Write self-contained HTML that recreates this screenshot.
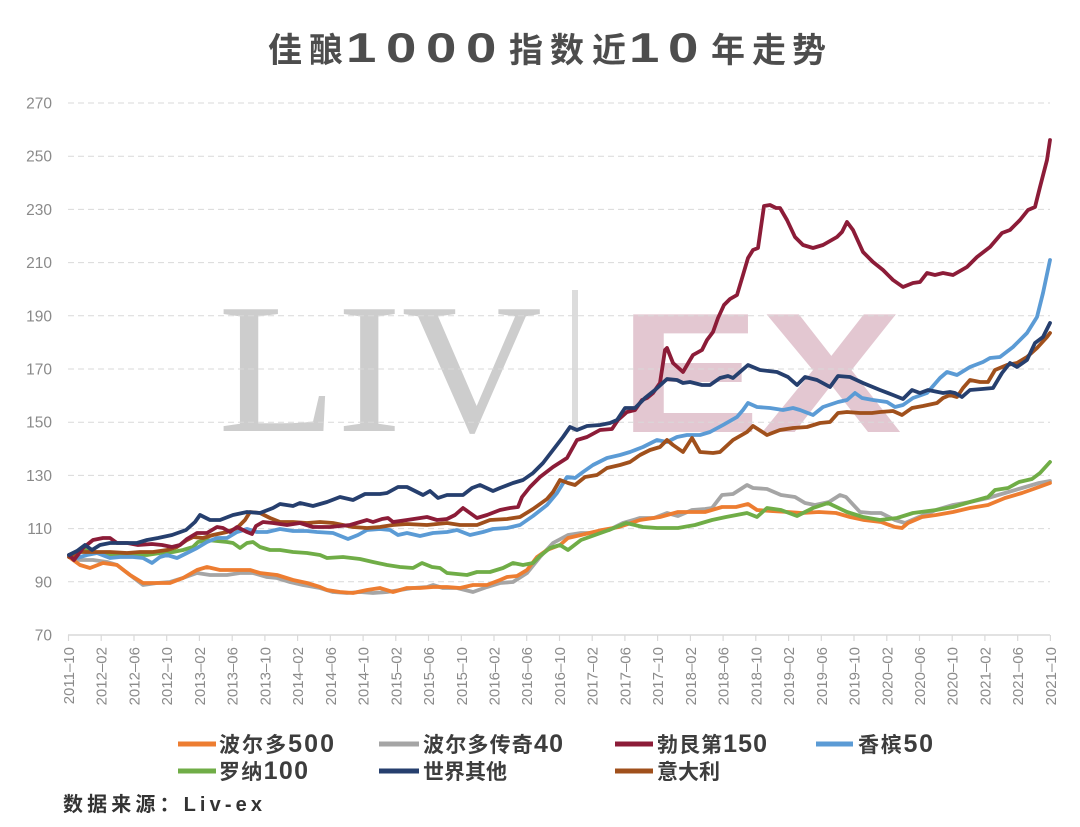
<!DOCTYPE html>
<html><head><meta charset="utf-8"><style>
html,body{margin:0;padding:0;background:#fff;}
svg{display:block;}
</style></head><body>
<svg width="1080" height="827" viewBox="0 0 1080 827" xmlns="http://www.w3.org/2000/svg">
<rect width="1080" height="827" fill="#fff"/>
<!-- title -->
<g font-family="'Liberation Sans','Noto Sans CJK SC',sans-serif" font-weight="bold" fill="#4d4d4d">
<text x="268" y="62" font-size="34">佳</text>
<text x="309" y="62" font-size="34">酿</text>
<text transform="translate(346,62) scale(1.3,1)" font-size="42">1</text>
<text transform="translate(386,62) scale(1.3,1)" font-size="42">0</text>
<text transform="translate(426,62) scale(1.3,1)" font-size="42">0</text>
<text transform="translate(466,62) scale(1.3,1)" font-size="42">0</text>
<text x="509" y="62" font-size="34">指</text>
<text x="550" y="62" font-size="34">数</text>
<text x="592" y="62" font-size="34">近</text>
<text transform="translate(629,62) scale(1.3,1)" font-size="42">1</text>
<text transform="translate(668,62) scale(1.3,1)" font-size="42">0</text>
<text x="711" y="62" font-size="34">年</text>
<text x="752" y="62" font-size="34">走</text>
<text x="792" y="62" font-size="34">势</text>
</g>
<!-- watermark -->
<text x="218" y="431" font-family="'Liberation Serif',serif" font-size="186" fill="#cdcdcd" textLength="324" lengthAdjust="spacingAndGlyphs">LIV</text>
<rect x="572" y="290" width="6" height="142" fill="#dcdcdc"/>
<text x="619" y="432" font-family="'Liberation Sans',sans-serif" font-weight="bold" font-size="171" fill="#e3c7d1" textLength="283" lengthAdjust="spacingAndGlyphs">EX</text>
<!-- gridlines -->
<g stroke="#d9d9d9" stroke-width="1" stroke-dasharray="6,4">
<line x1="68" y1="103" x2="1050" y2="103"/>
<line x1="68" y1="156.2" x2="1050" y2="156.2"/>
<line x1="68" y1="209.4" x2="1050" y2="209.4"/>
<line x1="68" y1="262.6" x2="1050" y2="262.6"/>
<line x1="68" y1="315.8" x2="1050" y2="315.8"/>
<line x1="68" y1="369" x2="1050" y2="369"/>
<line x1="68" y1="422.2" x2="1050" y2="422.2"/>
<line x1="68" y1="475.4" x2="1050" y2="475.4"/>
<line x1="68" y1="528.6" x2="1050" y2="528.6"/>
<line x1="68" y1="581.8" x2="1050" y2="581.8"/>
</g>
<line x1="68" y1="635" x2="1050" y2="635" stroke="#d9d9d9" stroke-width="1.5"/>
<!-- y labels -->
<g font-family="'Liberation Sans',sans-serif" font-size="15.5" fill="#8a8a8a" text-anchor="end">
<text x="52" y="108.5">270</text>
<text x="52" y="161.7">250</text>
<text x="52" y="214.9">230</text>
<text x="52" y="268.1">210</text>
<text x="52" y="321.3">190</text>
<text x="52" y="374.5">170</text>
<text x="52" y="427.7">150</text>
<text x="52" y="480.9">130</text>
<text x="52" y="534.1">110</text>
<text x="52" y="587.3">90</text>
<text x="52" y="640.5">70</text>
</g>
<!-- x ticks & labels -->
<g stroke="#d9d9d9" stroke-width="1.2">
<line x1="68.5" y1="635" x2="68.5" y2="641"/><line x1="101.2" y1="635" x2="101.2" y2="641"/><line x1="134" y1="635" x2="134" y2="641"/><line x1="166.7" y1="635" x2="166.7" y2="641"/><line x1="199.4" y1="635" x2="199.4" y2="641"/><line x1="232.2" y1="635" x2="232.2" y2="641"/><line x1="264.9" y1="635" x2="264.9" y2="641"/><line x1="297.6" y1="635" x2="297.6" y2="641"/><line x1="330.3" y1="635" x2="330.3" y2="641"/><line x1="363.1" y1="635" x2="363.1" y2="641"/><line x1="395.8" y1="635" x2="395.8" y2="641"/><line x1="428.5" y1="635" x2="428.5" y2="641"/><line x1="461.3" y1="635" x2="461.3" y2="641"/><line x1="494" y1="635" x2="494" y2="641"/><line x1="526.7" y1="635" x2="526.7" y2="641"/><line x1="559.5" y1="635" x2="559.5" y2="641"/><line x1="592.2" y1="635" x2="592.2" y2="641"/><line x1="624.9" y1="635" x2="624.9" y2="641"/><line x1="657.6" y1="635" x2="657.6" y2="641"/><line x1="690.4" y1="635" x2="690.4" y2="641"/><line x1="723.1" y1="635" x2="723.1" y2="641"/><line x1="755.8" y1="635" x2="755.8" y2="641"/><line x1="788.6" y1="635" x2="788.6" y2="641"/><line x1="821.3" y1="635" x2="821.3" y2="641"/><line x1="854" y1="635" x2="854" y2="641"/><line x1="886.8" y1="635" x2="886.8" y2="641"/><line x1="919.5" y1="635" x2="919.5" y2="641"/><line x1="952.2" y1="635" x2="952.2" y2="641"/><line x1="984.9" y1="635" x2="984.9" y2="641"/><line x1="1017.7" y1="635" x2="1017.7" y2="641"/><line x1="1050.4" y1="635" x2="1050.4" y2="641"/>
</g>
<g font-family="'Liberation Sans',sans-serif" font-size="15" fill="#8a8a8a" text-anchor="end">
<text transform="translate(74,647) rotate(-90)">2011–10</text>
<text transform="translate(106.7,647) rotate(-90)">2012–02</text>
<text transform="translate(139.5,647) rotate(-90)">2012–06</text>
<text transform="translate(172.2,647) rotate(-90)">2012–10</text>
<text transform="translate(204.9,647) rotate(-90)">2013–02</text>
<text transform="translate(237.7,647) rotate(-90)">2013–06</text>
<text transform="translate(270.4,647) rotate(-90)">2013–10</text>
<text transform="translate(303.1,647) rotate(-90)">2014–02</text>
<text transform="translate(335.8,647) rotate(-90)">2014–06</text>
<text transform="translate(368.6,647) rotate(-90)">2014–10</text>
<text transform="translate(401.3,647) rotate(-90)">2015–02</text>
<text transform="translate(434,647) rotate(-90)">2015–06</text>
<text transform="translate(466.8,647) rotate(-90)">2015–10</text>
<text transform="translate(499.5,647) rotate(-90)">2016–02</text>
<text transform="translate(532.2,647) rotate(-90)">2016–06</text>
<text transform="translate(565,647) rotate(-90)">2016–10</text>
<text transform="translate(597.7,647) rotate(-90)">2017–02</text>
<text transform="translate(630.4,647) rotate(-90)">2017–06</text>
<text transform="translate(663.1,647) rotate(-90)">2017–10</text>
<text transform="translate(695.9,647) rotate(-90)">2018–02</text>
<text transform="translate(728.6,647) rotate(-90)">2018–06</text>
<text transform="translate(761.3,647) rotate(-90)">2018–10</text>
<text transform="translate(794.1,647) rotate(-90)">2019–02</text>
<text transform="translate(826.8,647) rotate(-90)">2019–06</text>
<text transform="translate(859.5,647) rotate(-90)">2019–10</text>
<text transform="translate(892.3,647) rotate(-90)">2020–02</text>
<text transform="translate(925,647) rotate(-90)">2020–06</text>
<text transform="translate(957.7,647) rotate(-90)">2020–10</text>
<text transform="translate(990.4,647) rotate(-90)">2021–02</text>
<text transform="translate(1023.2,647) rotate(-90)">2021–06</text>
<text transform="translate(1055.9,647) rotate(-90)">2021–10</text>
</g>
<!-- series -->
<g fill="none" stroke-width="3.8" stroke-linejoin="round" stroke-linecap="round">
<polyline stroke="#a5a5a5" points="69,557 80,560 93,560 107,562 117,565 130,575 143,585 157,583 170,582 183,578 197,573 210,575 227,575 240,573 253,573 267,577 277,578 290,582 303,585 320,588 333,592 347,593 360,592 373,593 387,592 400,590 413,588 427,587 433,585 443,588 457,588 473,592 487,587 500,583 513,582 527,573 540,557 553,543 568,535 581,533 595,533 609,530 623,523 640,518 654,518 667,513 678,516 692,510 705,509 712,508 722,495 733,494 747,485 753,488 767,489 781,495 795,497 805,503 815,505 829,502 840,495 846,497 860,512 871,513 881,513 895,520 905,523 919,517 936,510 953,505 970,502 988,498 1005,493 1022,488 1039,483 1050,481"/>
<polyline stroke="#ed7d31" points="69,557 80,565 90,568 103,563 117,565 130,575 143,583 157,583 170,583 183,578 197,570 207,567 220,570 237,570 250,570 260,573 277,575 293,580 307,583 320,587 327,590 340,592 353,593 367,590 380,588 393,592 407,588 420,588 433,587 447,587 460,588 473,585 487,585 500,580 507,577 517,576 527,570 537,557 547,550 560,545 568,538 581,535 602,530 619,527 640,520 660,517 678,512 692,512 705,512 722,507 736,507 748,504 757,510 771,511 788,512 802,513 819,512 836,513 850,517 864,520 881,522 895,527 902,528 908,523 922,517 936,515 953,512 970,508 988,505 1005,498 1022,493 1039,487 1050,483"/>
<polyline stroke="#70ad47" points="69,555 80,550 90,550 103,555 117,555 133,555 147,555 160,553 173,552 183,550 193,547 198,542 207,540 217,541 227,542 233,543 240,548 247,543 253,542 260,547 270,550 280,550 293,552 307,553 320,555 327,558 343,557 360,559 373,562 387,565 400,567 413,568 422,563 432,567 440,568 447,573 457,574 467,575 477,572 490,572 503,568 513,563 523,565 533,563 540,556 550,548 560,545 568,550 581,540 595,535 609,530 626,523 643,527 657,528 678,528 695,525 712,520 726,517 747,513 757,517 767,508 781,510 797,516 813,508 828,503 847,512 863,517 880,520 897,518 913,513 936,510 953,507 970,502 988,497 995,490 1008,488 1019,482 1032,479 1040,473 1050,462"/>
<polyline stroke="#5b9bd5" points="69,555 77,558 87,555 97,553 110,558 120,557 133,557 143,558 152,563 160,557 167,555 177,558 187,553 197,548 207,542 217,538 227,538 237,532 247,529 257,532 267,532 280,529 293,531 307,531 317,532 333,533 348,539 358,535 367,530 380,529 390,530 398,535 407,533 420,536 433,533 447,532 457,530 470,535 483,532 493,529 507,528 520,525 533,516 547,505 557,493 567,477 575,478 583,472 593,465 607,458 620,455 630,452 643,447 657,440 667,442 677,437 687,435 700,435 710,432 723,425 737,417 743,410 748,403 757,407 770,408 783,410 793,408 800,410 813,415 823,407 838,402 847,400 855,393 862,398 873,400 887,402 895,407 903,405 913,398 927,393 940,378 947,372 957,375 970,367 983,362 990,358 1000,357 1013,347 1027,333 1037,317 1043,293 1050,260"/>
<polyline stroke="#a0501c" points="69,557 80,552 93,552 110,552 127,553 140,552 153,552 167,550 177,547 187,540 193,537 203,538 213,535 227,532 237,528 245,520 250,512 260,513 270,518 280,522 293,522 307,523 320,522 333,523 353,527 367,528 380,527 393,525 407,524 427,525 447,523 460,525 477,525 490,520 507,519 520,517 533,509 547,499 553,492 560,480 568,483 575,485 585,477 597,475 607,468 620,465 630,462 640,455 650,450 660,447 667,440 673,445 683,452 692,438 700,452 713,453 720,452 733,440 747,432 753,426 767,435 780,430 793,428 807,427 820,423 830,422 838,413 847,412 860,413 872,413 880,412 893,411 902,415 912,408 923,406 937,403 943,398 950,395 957,397 963,388 970,380 980,382 988,382 995,370 1007,365 1017,363 1027,357 1037,348 1047,337 1050,333"/>
<polyline stroke="#8c1c38" points="69,555 74,560 83,548 93,540 103,538 110,538 117,543 127,543 138,545 152,544 162,545 172,547 180,545 187,539 197,533 207,533 217,527 223,528 230,532 237,527 247,532 252,534 256,526 263,522 273,523 287,525 300,523 313,527 330,527 350,525 367,520 373,522 382,519 388,518 393,522 407,520 427,517 437,520 447,519 455,515 463,508 470,513 477,518 487,515 500,510 510,508 518,507 522,497 530,487 540,477 553,467 567,458 577,440 587,437 600,430 612,429 618,420 627,412 635,410 642,400 647,398 653,393 660,383 665,350 667,348 673,363 683,372 690,360 693,355 702,350 707,340 713,332 718,318 724,305 730,299 737,295 743,275 748,258 753,250 758,248 764,206 770,205 776,208 780,208 787,220 795,237 803,245 813,248 823,245 837,237 842,232 847,222 853,230 863,252 873,262 883,270 893,280 903,287 913,283 920,282 927,273 935,275 943,273 953,275 967,267 977,257 990,247 1002,233 1010,230 1020,220 1028,210 1035,207 1040,187 1047,160 1050,140"/>
<polyline stroke="#263f6e" points="69,555 77,551 85,545 92,550 100,545 110,543 120,543 137,543 147,540 158,538 172,535 186,530 195,522 200,515 210,520 220,520 233,515 247,512 260,513 273,508 280,504 293,506 300,503 313,506 327,502 340,497 353,500 365,494 380,494 387,493 398,487 407,487 415,491 423,495 430,491 438,498 447,495 463,495 472,488 480,485 493,491 500,488 513,483 523,480 533,473 543,463 553,450 563,437 570,427 577,430 587,426 600,425 610,423 617,420 625,408 635,408 645,398 655,390 667,379 677,380 683,383 690,382 702,385 710,385 720,378 728,376 733,378 748,365 760,370 777,372 788,377 797,385 805,377 817,380 830,387 838,376 850,377 863,383 880,390 893,395 903,399 912,390 920,393 928,390 943,393 950,392 955,393 962,397 970,390 982,389 993,388 1002,373 1010,363 1017,367 1027,360 1035,343 1043,337 1050,323"/>
</g>
<!-- legend -->
<g stroke-width="5">
<line x1="178" y1="744" x2="216" y2="744" stroke="#ed7d31"/>
<line x1="379" y1="744" x2="419" y2="744" stroke="#a5a5a5"/>
<line x1="615" y1="744" x2="653" y2="744" stroke="#8c1c38"/>
<line x1="816" y1="744" x2="853" y2="744" stroke="#5b9bd5"/>
<line x1="178" y1="771" x2="216" y2="771" stroke="#70ad47"/>
<line x1="379" y1="771" x2="419" y2="771" stroke="#263f6e"/>
<line x1="615" y1="771" x2="653" y2="771" stroke="#a0501c"/>
</g>
<g font-family="'Liberation Sans','Noto Sans CJK SC',sans-serif" font-weight="bold" font-size="21" fill="#3d3d3d">
<text x="219" y="752" textLength="115" lengthAdjust="spacing">波尔多<tspan font-size="25">500</tspan></text>
<text x="423" y="752" textLength="140" lengthAdjust="spacing">波尔多传奇<tspan font-size="25">40</tspan></text>
<text x="657" y="752" textLength="110" lengthAdjust="spacing">勃艮第<tspan font-size="25">150</tspan></text>
<text x="858" y="752" textLength="75" lengthAdjust="spacing">香槟<tspan font-size="25">50</tspan></text>
<text x="219" y="779" textLength="89" lengthAdjust="spacing">罗纳<tspan font-size="25">100</tspan></text>
<text x="423" y="779">世界其他</text>
<text x="657" y="779">意大利</text>
<text x="63" y="811" font-size="20" fill="#333" textLength="199" lengthAdjust="spacing">数据来源：Liv-ex</text>
</g>
</svg>
</body></html>
